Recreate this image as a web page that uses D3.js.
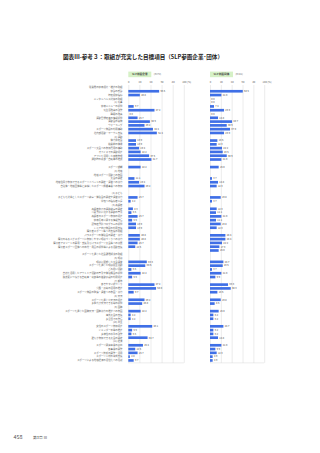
<!DOCTYPE html>
<html>
<head>
<meta charset="utf-8">
<script src="https://cdn.jsdelivr.net/npm/d3@7"></script>
<style>
  body { margin: 0; background: #fff; }
  svg { display: block; font-family: "Noto Sans CJK JP", "Noto Sans", sans-serif; }
</style>
</head>
<body>
<div id="chart"></div>
<script>
const titleText = "図表Ⅲ-参考３：取組が充実した目標項目（SLP参画企業･団体）";
const panelNames = ["SLP参画企業", "SLP参画団体"];
const panelN = ["(n=72)", "(n=81)"];
const tickValues = [0, 20, 40, 60, 80, 100];

const labels = [
  "従業員の健康保持・増進の取組", "健診の受診", "特定保健指導", "メンタルヘルス対策の取組", "(1) 食事",
  "健康メニューの提供", "食生活改善の啓発", "睡眠の改善", "運動習慣定着の情報提供", "運動会の実施",
  "ウォーキング", "スポーツ施設の利用補助", "社内部活動・サークル支援", "(2) 運動", "体力測定会",
  "始業前の体操", "スポーツ大会への参加費用の補助", "オフィスでの運動促進", "アプリを活用した歩数管理", "通勤時の徒歩・自転車の推奨",
  "", "スポーツ観戦", "(3) 地域", "地域スポーツ活動への参画", "大会の開催",
  "地域住民が参加できるスポーツイベントの開催・運営への協力", "自治体・地域団体等と連携したスポーツ振興事業への参加", "", "(4) 子ども", "子どもを対象としたスポーツ教室・体験会の開催や運営協力",
  "学校への指導者派遣", "(5) 高齢者", "高齢者向けの運動教室の開催", "介護予防に資する運動の普及", "高齢者のスポーツ参加の促進",
  "健康長寿に関する情報発信", "認知症予防プログラムの提供", "シニア向け施設の利用支援", "障害者スポーツ等への支援の取組", "パラスポーツの体験会の開催・協力",
  "障害のある人がスポーツに参加しやすい環境づくりへの協力", "障害者アスリートの雇用・支援及びパラスポーツ大会等への協賛", "障害者スポーツ団体への寄付・用具の提供等による活動支援", "", "スポーツを通じた社会課題解決の取組",
  "(6) 環境", "環境に配慮した大会運営", "スポーツを通じた環境保全活動", "ごみ拾い活動", "自然を活用したアウトドア活動の普及や体験機会の提供",
  "脱炭素につながる自転車・徒歩等の移動手段の利用促進", "(7) 都市", "歩きやすい街づくり", "公園・広場の活用の推進", "スポーツ施設の整備・運営への参画・協力",
  "(8) 交流", "スポーツを通じた交流の促進", "多世代が交流できる場の提供", "(9) 国際", "スポーツを通じた国際交流・国際協力の推進への参画",
  "海外大会の支援", "多言語での発信", "(10) 共生", "女性のスポーツ参加促進", "ジェンダー平等の推進",
  "多様性の尊重の啓発", "誰もが参加できる大会の開催", "(11) 経済", "スポーツ関連産業の創出", "新事業の開発",
  "スポーツ技術の開発・活用", "スポーツ人材の育成支援", "スポーツによる地域経済の活性化への貢献"
];

const leftValues = [
  null, 55.6, 20.8, null, null,
  9.7, 47.2, 0.0, 16.7, 38.9,
  29.2, 44.4, 51.4, null, 13.9,
  13.9, 19.4, 22.2, 37.5, 41.7,
  null, 22.2, null, null, 11.1,
  19.4, 29.2, null, null, 16.7,
  4.2, null, 8.3, 5.6, 16.7,
  6.9, 13.9, 13.9, null, 20.8,
  20.8, 16.7, 12.5, null, null,
  null, 33.3, 30.6, 5.6, 22.2,
  6.9, null, 47.2, 50.0, 9.7,
  null, 29.2, 25.0, null, 22.2,
  4.2, 4.2, null, 43.1, 6.9,
  5.6, 34.7, null, 26.4, 12.5,
  16.7, 2.8, 9.7
];

const rightValues = [
  null, 60.5, 21.0, 0.0, 0.0,
  7.4, 25.9, 0.0, 14.8, 40.7,
  30.9, 37.0, 25.9, null, 13.6,
  12.3, 22.2, 23.5, 30.9, 21.0,
  null, 16.0, null, null, 3.7,
  14.8, 12.3, null, null, 19.8,
  3.7, null, 12.3, 11.1, 21.0,
  11.1, 19.8, 12.3, null, 28.4,
  28.4, 22.2, 17.3, 16.0, null,
  null, 24.7, 23.5, 3.7, 21.0,
  9.9, null, 33.3, 38.3, 13.6,
  null, 19.8, 8.6, null, 16.0,
  6.2, 6.2, null, 24.7, 6.2,
  6.2, 14.8, null, 21.0, 9.9,
  12.3, 4.9, 4.9
];

const pageNumber = "458";
const chapterText = "第3章 Ⅲ";

const width = 320, height = 453;
const plotTop = 85, plotBottom = 362.9;
const labelRight = 122.5;

const svg = d3.select("#chart").append("svg")
  .attr("width", width)
  .attr("height", height);

// title
svg.append("text")
  .attr("x", 63)
  .attr("y", 59.3)
  .attr("font-size", 5.8)
  .attr("font-weight", "bold")
  .attr("fill", "#222")
  .attr("textLength", 160)
  .attr("lengthAdjust", "spacingAndGlyphs")
  .text(titleText);

const y = d3.scaleBand()
  .domain(d3.range(labels.length))
  .range([plotTop, plotBottom])
  .padding(0.3);

// row labels
svg.append("g")
  .selectAll("text")
  .data(labels)
  .join("text")
  .attr("x", labelRight)
  .attr("y", (d, i) => y(i) + y.bandwidth() / 2)
  .attr("dy", "0.35em")
  .attr("text-anchor", "end")
  .attr("font-size", 2.4)
  .attr("fill", "#666")
  .text(d => d);

const panels = [
  { x0: 128.3, x1: 183.8, values: leftValues, name: panelNames[0], n: panelN[0] },
  { x0: 210, x1: 264.2, values: rightValues, name: panelNames[1], n: panelN[1] }
];

panels.forEach(p => {
  const x = d3.scaleLinear().domain([0, 100]).range([p.x0, p.x1]);
  const g = svg.append("g");

  // gridlines
  const grid = g.append("g")
    .attr("transform", `translate(0,${plotTop})`)
    .call(d3.axisTop(x).tickValues(tickValues).tickSize(-(plotBottom - plotTop)).tickFormat(""));
  grid.select(".domain").remove();
  grid.selectAll("line").attr("stroke", "#cfcfcf").attr("stroke-width", 0.4);

  g.append("line")
    .attr("x1", x(0)).attr("x2", x(100))
    .attr("y1", plotBottom).attr("y2", plotBottom)
    .attr("stroke", "#cfcfcf").attr("stroke-width", 0.4);

  // tick labels
  const ax = g.append("g")
    .attr("transform", "translate(0,83.3)")
    .call(d3.axisTop(x).tickValues(tickValues).tickSize(0).tickPadding(0));
  ax.select(".domain").remove();
  ax.selectAll("text")
    .attr("font-size", 2.6)
    .attr("font-family", "\"Noto Sans CJK JP\", sans-serif")
    .attr("fill", "#666");
  g.append("text")
    .attr("x", x(100) + 3.2)
    .attr("y", 83.3)
    .attr("font-size", 2.6)
    .attr("fill", "#666")
    .text("(%)");

  // panel header
  g.append("rect")
    .attr("x", p.x0)
    .attr("y", 71.6)
    .attr("width", 23)
    .attr("height", 5.6)
    .attr("fill", "#d6f1c6");
  g.append("text")
    .attr("x", p.x0 + 11.5)
    .attr("y", 74.4)
    .attr("dy", "0.35em")
    .attr("text-anchor", "middle")
    .attr("font-size", 2.7)
    .attr("font-weight", "bold")
    .attr("fill", "#444")
    .text(p.name);
  g.append("text")
    .attr("x", p.x0 + 25.5)
    .attr("y", 74.4)
    .attr("dy", "0.35em")
    .attr("font-size", 2.5)
    .attr("fill", "#666")
    .text(p.n);

  const rows = p.values.map((v, i) => ({ i, v })).filter(d => d.v !== null);

  g.append("g")
    .selectAll("rect")
    .data(rows)
    .join("rect")
    .attr("x", x(0))
    .attr("y", d => y(d.i))
    .attr("width", d => x(d.v) - x(0))
    .attr("height", y.bandwidth())
    .attr("fill", "#3f6fe6");

  g.append("g")
    .selectAll("text")
    .data(rows)
    .join("text")
    .attr("x", d => x(d.v) + 1.3)
    .attr("y", d => y(d.i) + y.bandwidth() / 2)
    .attr("dy", "0.35em")
    .attr("font-size", 2.4)
    .attr("fill", "#444")
    .text(d => d.v.toFixed(1));
});

// footer
svg.append("text")
  .attr("x", 13.5)
  .attr("y", 439)
  .attr("font-size", 5.4)
  .attr("fill", "#555")
  .text(pageNumber);
svg.append("text")
  .attr("x", 33)
  .attr("y", 438.6)
  .attr("font-size", 3.8)
  .attr("fill", "#555")
  .text(chapterText);
</script>
</body>
</html>
